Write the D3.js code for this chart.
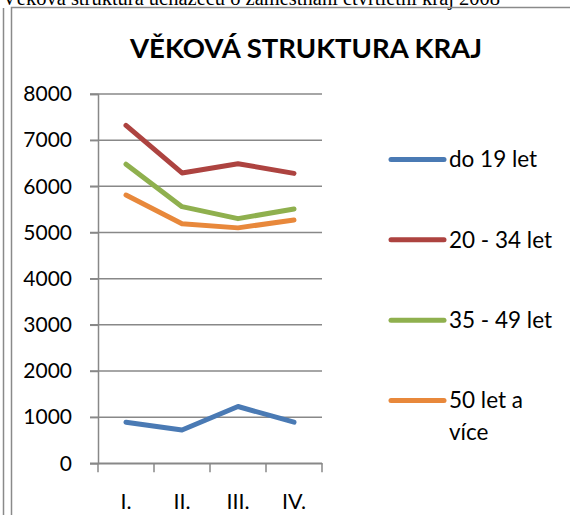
<!DOCTYPE html>
<html>
<head>
<meta charset="utf-8">
<script src="https://cdn.jsdelivr.net/npm/d3@7"></script>
<style>
  body { margin: 0; background: #fff; }
  svg { display: block; }
</style>
</head>
<body>
<svg id="chart"></svg>
<script>
  const quarters = ['I.', 'II.', 'III.', 'IV.'];
  const seriesNames = ['do 19 let', '20 - 34 let', '35 - 49 let', '50 let a více'];
  const do19 = [890, 720, 1230, 890];
  const age20to34 = [7320, 6290, 6490, 6280];
  const age35to49 = [6480, 5560, 5300, 5510];
  const age50plus = [5810, 5190, 5100, 5270];
  const yTicks = [0, 1000, 2000, 3000, 4000, 5000, 6000, 7000, 8000];

  const series = [do19, age20to34, age35to49, age50plus].map((vals, i) => ({
    name: seriesNames[i],
    values: vals.map((v, j) => ({ q: quarters[j], v }))
  }));

  const W = 570, H = 515;
  const svg = d3.select('#chart').attr('width', W).attr('height', H);
  const font = 'Lato, "Open Sans", sans-serif';

  // page text above the chart (cut off at the top like in the source)
  svg.append('text')
    .attr('x', 2).attr('y', 5)
    .style('font-family', '"Liberation Serif", serif')
    .style('font-size', '20.5px')
    .attr('fill', '#000')
    .text('Věková struktura uchazečů o zaměstnání čtvrtletní kraj 2008');

  const frame = svg.append('g').attr('stroke', '#8a8a8a').attr('stroke-width', 1.5).attr('fill', 'none');
  frame.append('line').attr('x1', 3.5).attr('x2', 3.5).attr('y1', 8).attr('y2', H);
  frame.append('path').attr('d', `M11.5,${H} V7.5 H${W}`);

  // title
  svg.append('text')
    .attr('x', 306).attr('y', 58)
    .attr('text-anchor', 'middle')
    .style('font-family', font)
    .style('font-size', '27.5px')
    .style('font-weight', 'bold')
    .text('VĚKOVÁ STRUKTURA KRAJ');

  const x = d3.scaleBand().domain(quarters).range([98, 322]);
  const y = d3.scaleLinear().domain([0, 8000]).range([463.3, 94]);

  const color = d3.scaleOrdinal()
    .domain(seriesNames)
    .range(['#4a7ab4', '#ad4340', '#8fb04e', '#e8883b']);

  // gridlines
  svg.append('g')
    .selectAll('line')
    .data(yTicks)
    .enter().append('line')
    .attr('x1', 90).attr('x2', 322)
    .attr('y1', d => y(d)).attr('y2', d => y(d))
    .attr('stroke', '#888').attr('stroke-width', 1.5);

  // y axis
  const yAxis = svg.append('g')
    .attr('transform', 'translate(98,0)')
    .call(d3.axisLeft(y).tickValues(yTicks).tickSize(8).tickPadding(18).tickFormat(d3.format('d')));
  yAxis.select('.domain').attr('stroke', '#888').attr('stroke-width', 1.5);
  yAxis.selectAll('.tick line').attr('stroke', '#888').attr('stroke-width', 1.5);
  yAxis.selectAll('text').style('font-family', font).style('font-size', '21px').attr('fill', '#000');

  // x axis
  const xAxis = svg.append('g')
    .attr('transform', `translate(0,${y(0)})`)
    .call(d3.axisBottom(x).tickSize(0).tickPadding(30));
  xAxis.select('.domain').attr('stroke', '#888').attr('stroke-width', 1.5);
  xAxis.selectAll('text').style('font-family', font).style('font-size', '21.5px').attr('fill', '#000');
  xAxis.selectAll('.boundary')
    .data(quarters.concat(['end']))
    .enter().append('line')
    .attr('class', 'boundary')
    .attr('x1', (d, i) => x.range()[0] + i * x.step())
    .attr('x2', (d, i) => x.range()[0] + i * x.step())
    .attr('y1', 0).attr('y2', 9)
    .attr('stroke', '#888').attr('stroke-width', 1.5);

  // lines
  const line = d3.line()
    .x(d => x(d.q) + x.bandwidth() / 2)
    .y(d => y(d.v));

  svg.append('g')
    .selectAll('path')
    .data(series)
    .enter().append('path')
    .attr('d', d => line(d.values))
    .attr('fill', 'none')
    .attr('stroke', d => color(d.name))
    .attr('stroke-width', 5)
    .attr('stroke-linecap', 'round')
    .attr('stroke-linejoin', 'round');

  // legend
  const legend = svg.append('g').attr('class', 'legend');
  const legY = d3.scalePoint().domain(seriesNames).range([159.5, 400.5]);
  const item = legend.selectAll('g')
    .data(seriesNames)
    .enter().append('g')
    .attr('transform', d => `translate(0,${legY(d)})`);
  item.append('line')
    .attr('x1', 391).attr('x2', 444)
    .attr('stroke', d => color(d))
    .attr('stroke-width', 5)
    .attr('stroke-linecap', 'round');
  item.append('text')
    .attr('x', 449).attr('dy', '0.35em')
    .style('font-family', font)
    .style('font-size', '22.5px')
    .each(function(d) {
      const t = d3.select(this);
      const words = d.split(' ');
      let lineTxt = [];
      let ts = t.append('tspan').attr('x', 449);
      words.forEach(w => {
        lineTxt.push(w);
        ts.text(lineTxt.join(' '));
        if (ts.node().getComputedTextLength() > 110 && lineTxt.length > 1) {
          lineTxt.pop();
          ts.text(lineTxt.join(' '));
          lineTxt = [w];
          ts = t.append('tspan').attr('x', 449).attr('dy', 32).text(w);
        }
      });
    });
</script>
</body>
</html>
